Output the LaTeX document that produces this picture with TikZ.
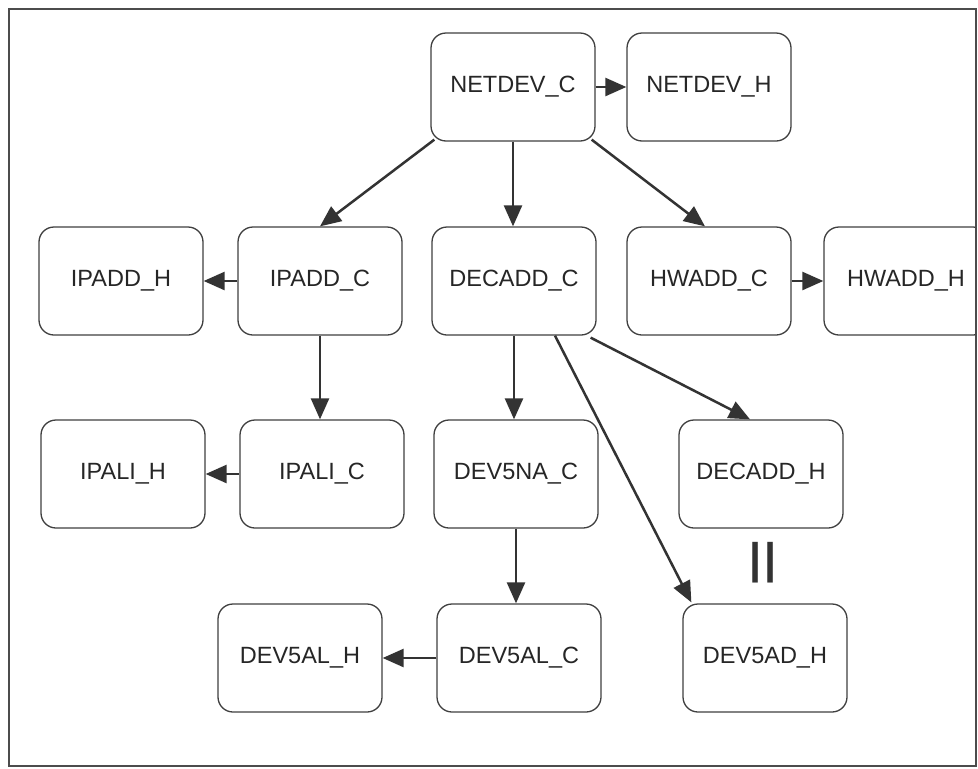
\documentclass[tikz,border=0pt]{standalone}
\usepackage{fontspec}
\setmainfont{Liberation Sans}
\usetikzlibrary{arrows.meta}
\begin{document}
\begin{tikzpicture}[x=1pt,y=-1pt,
  box/.style={draw=black!75, line width=1.3pt, rounded corners=15pt,
    minimum width=164pt, minimum height=108pt, inner sep=0pt,
    font=\fontsize{23.5}{26}\selectfont, text=black!85},
  link/.style={draw=black!80, line width=2.5pt,
    -{Triangle[length=21pt,width=18pt]}}]
\useasboundingbox (0,0) rectangle (978,769);
\fill[white] (0,0) rectangle (978,769);
% nodes
\node[box] (netc)   at (513,87)  {NETDEV\_C};
\node[box] (neth)   at (709,87)  {NETDEV\_H};
\node[box] (ipaddh) at (121,281) {IPADD\_H};
\node[box] (ipaddc) at (320,281) {IPADD\_C};
\node[box] (decc)   at (514,281) {DECADD\_C};
\node[box] (hwc)    at (709,281) {HWADD\_C};
\node[box] (hwh)    at (906,281) {HWADD\_H};
\node[box] (ipalih) at (123,474) {IPALI\_H};
\node[box] (ipalic) at (322,474) {IPALI\_C};
\node[box] (dnac)   at (516,474) {DEV5NA\_C};
\node[box] (dech)   at (761,474) {DECADD\_H};
\node[box] (dalh)   at (300,658) {DEV5AL\_H};
\node[box] (dalc)   at (519,658) {DEV5AL\_C};
\node[box] (dadh)   at (765,658) {DEV5AD\_H};
\node[font=\bfseries\fontsize{43}{43}\selectfont, text=black!80] (eq) at (763,563) {|\kern3pt|};
% connectors
\draw[link] (netc.east) -- (neth.west);
\draw[link] ([xshift=4pt,yshift=2pt]netc.south west) -- (ipaddc.north);
\draw[link] (netc.south) -- (netc.south |- decc.north);
\draw[link] ([xshift=-4pt,yshift=2pt]netc.south east) -- ([xshift=-4pt]hwc.north);
\draw[link] (ipaddc.west) -- (ipaddh.east);
\draw[link] (hwc.east) -- (hwh.west);
\draw[link] (ipaddc.south) -- (ipaddc.south |- ipalic.north);
\draw[link] (ipalic.west) -- (ipalih.east);
\draw[link] (decc.south) -- (decc.south |- dnac.north);
\draw[link] ([xshift=-6pt,yshift=-2pt]decc.south east) -- ([xshift=-11pt]dech.north);
\draw[link] ([xshift=41pt]decc.south) -- ([xshift=9pt,yshift=1pt]dadh.north west);
\draw[link] (dnac.south) -- (dnac.south |- dalc.north);
\draw[link] (dalc.west) -- (dalh.east);
% outer frame, drawn last so it trims the right-hand box
\fill[white] (976,0) rectangle (978,769);
\draw[black!70, line width=2.4pt] (9,9) -- (976,9) -- (976,766) -- (9,766) -- cycle;
\end{tikzpicture}
\end{document}
